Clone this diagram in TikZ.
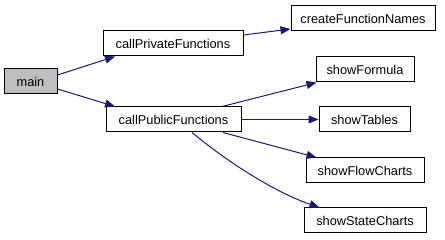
\documentclass[tikz,border=0pt]{standalone}
\usepackage{fontspec}
\setmainfont{Liberation Sans}
\usetikzlibrary{arrows.meta}
\definecolor{edgeblue}{RGB}{25,25,112}
\definecolor{rootgray}{RGB}{191,191,191}
\tikzset{
  fn/.style={draw=black, line width=1pt, fill=white, minimum height=25pt,
    inner sep=0pt, font=\fontsize{12.8}{14}\selectfont},
  root/.style={fn, fill=rootgray},
  call/.style={draw=edgeblue, line width=1pt,
    -{Triangle[length=10pt,width=8pt]}},
}
\begin{document}
\begin{tikzpicture}[x=1pt,y=-1pt]
  \useasboundingbox (0,0) rectangle (445,240);
  % function boxes
  \node[root, minimum width=53pt]  (main) at (30.5,81.5)  {main};
  \node[fn, minimum width=140pt]   (cpriv) at (173,43.5)  {callPrivateFunctions};
  \node[fn, minimum width=135pt]   (cpub) at (173.5,119.5) {callPublicFunctions};
  \node[fn, minimum width=144pt]   (cfn) at (363,18.5)    {createFunctionNames};
  \node[fn, minimum width=98pt]    (sf) at (365,69.5)     {showFormula};
  \node[fn, minimum width=91pt]    (st) at (364.5,119.5)  {showTables};
  \node[fn, minimum width=118pt]   (sfc) at (365,170.5)   {showFlowCharts};
  \node[fn, minimum width=122pt]   (ssc) at (365,220.5)   {showStateCharts};
  % call edges
  \draw[call] ([yshift=6.5pt]main.east) -- ([xshift=-58pt]cpriv.south);
  \draw[call] ([yshift=-7.5pt]main.east) -- ([xshift=-58.5pt]cpub.north);
  \draw[call] ([yshift=8.5pt]cpriv.east) -- ([yshift=-10.5pt]cfn.west);
  \draw[call] ([xshift=48.5pt]cpub.north) -- ([xshift=1pt]sf.south west);
  \draw[call] (cpub.east) -- (st.west);
  \draw[call] ([xshift=49.5pt]cpub.south) -- ([xshift=11pt]sfc.north west);
  \draw[call] ([xshift=18.5pt]cpub.south) .. controls (235,168) and (280,194) .. ([xshift=16pt]ssc.north west);
\end{tikzpicture}
\end{document}
